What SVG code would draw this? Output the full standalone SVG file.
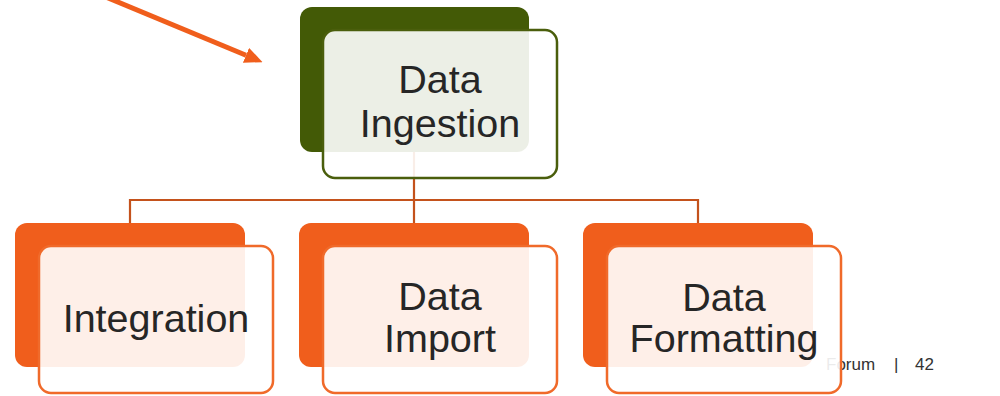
<svg xmlns="http://www.w3.org/2000/svg" width="1000" height="396" viewBox="0 0 1000 396">
<style>
  .t { font-family: "Liberation Sans", Arial, sans-serif; font-size: 39.5px; fill: #262626; text-anchor: middle; }
  .foot { font-family: "Liberation Sans", Arial, sans-serif; font-size: 17px; fill: #333333; }
  .conn { stroke: #c4521c; stroke-width: 2.2; fill: none; }
  .backG { fill: #435a06; }
  .frontG { fill: #ffffff; fill-opacity: 0.9; stroke: #4a5e0c; stroke-width: 2.5; }
  .backO { fill: #f05e1c; }
  .frontO { fill: #ffffff; fill-opacity: 0.9; stroke: #f06a2a; stroke-width: 2.5; }
</style>
<defs>
  <marker id="ah" markerUnits="userSpaceOnUse" markerWidth="18" markerHeight="16" refX="0" refY="8" orient="auto">
    <path d="M0,0 L18,8 L0,16 z" fill="#f05e1c"/>
  </marker>
</defs>
<rect width="1000" height="396" fill="#ffffff"/>
<text class="foot" x="826" y="370">Forum</text>
<text class="foot" x="894" y="370">|</text>
<text class="foot" x="915" y="370">42</text>
<g id="pointer">
  <line x1="101" y1="-5" x2="246" y2="55.3" stroke="#f05e1c" stroke-width="5" marker-end="url(#ah)"/>
</g>
<g id="connectors">
  <path class="conn" d="M414,152 V200 M130,200 H698 M130,199 V223 M414,200 V223 M698,199 V223"/>
</g>
<g id="node-ingestion">
  <rect class="backG" x="300" y="7" width="229" height="145" rx="12"/>
  <rect class="frontG" x="323" y="30" width="234" height="148" rx="12"/>
  <text class="t" x="440" y="93">Data</text>
  <text class="t" x="440" y="137">Ingestion</text>
</g>
<g id="node-integration">
  <rect class="backO" x="15" y="223" width="230" height="144" rx="12"/>
  <rect class="frontO" x="39" y="246" width="234" height="147" rx="12"/>
  <text class="t" x="156" y="332">Integration</text>
</g>
<g id="node-import">
  <rect class="backO" x="299" y="223" width="230" height="144" rx="12"/>
  <rect class="frontO" x="323" y="246" width="234" height="147" rx="12"/>
  <text class="t" x="440" y="310">Data</text>
  <text class="t" x="440" y="352">Import</text>
</g>
<g id="node-formatting">
  <rect class="backO" x="583" y="223" width="230" height="144" rx="12"/>
  <rect class="frontO" x="607" y="246" width="234" height="147" rx="12"/>
  <text class="t" x="724" y="311">Data</text>
  <text class="t" x="724" y="352">Formatting</text>
</g>
</svg>
